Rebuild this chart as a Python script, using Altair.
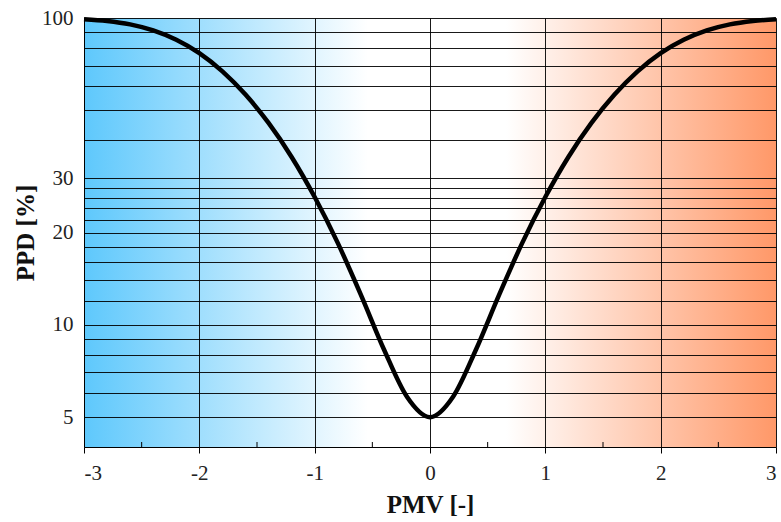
import altair as alt
import pandas as pd

# PMV (predicted mean vote) and PPD (predicted percentage dissatisfied) curve
pmv = [-3.0, -2.8, -2.6, -2.4, -2.2, -2.0, -1.8, -1.6, -1.4, -1.2, -1.0,
       -0.8, -0.6, -0.4, -0.2, 0.0, 0.2, 0.4, 0.6, 0.8, 1.0,
       1.2, 1.4, 1.6, 1.8, 2.0, 2.2, 2.4, 2.6, 2.8, 3.0]
ppd = [99.1, 97.8, 95.3, 91.1, 84.9, 76.8, 67.0, 56.3, 45.5, 35.25, 26.1,
       18.5, 12.55, 8.33, 5.83, 5.0, 5.83, 8.33, 12.55, 18.5, 26.1,
       35.25, 45.5, 56.3, 67.0, 76.8, 84.9, 91.1, 95.3, 97.8, 99.1]

# axis ticks, grid and labels
x_ticks = [-3, -2, -1, 0, 1, 2, 3]
x_minor = [-2.5, -1.5, -0.5, 0.5, 1.5, 2.5]
y_grid = [5, 6, 7, 8, 9, 10, 12, 14, 16, 18, 20, 22, 24, 26, 28,
          30, 40, 50, 60, 70, 80, 90, 100]
y_labels = [5, 10, 20, 30, 100]

FONT = "Liberation Serif"
W, H = 692, 429

curve_df = pd.DataFrame({"PMV": pmv, "PPD": ppd})
band_df = pd.DataFrame({"x": [-3], "x2": [3], "y": [4], "y2": [100]})
minor_df = pd.DataFrame({"x": x_minor})

x_scale = alt.Scale(domain=[-3, 3], nice=False, zero=False)
y_scale = alt.Scale(type="log", domain=[4, 100], nice=False)

x_axis = alt.Axis(
    values=x_ticks, labelExpr="'' + datum.value",
    labelFont=FONT, labelFontSize=21, labelColor="#222222",
    labelPadding=9, tickSize=6, tickColor="#000000", domainColor="#000000",
    grid=True, gridColor="#000000", gridOpacity=0.9, gridWidth=1,
    title="PMV [-]", titleFont=FONT, titleFontSize=25, titleFontWeight="bold",
    titleColor="#111111", titlePadding=9, zindex=1,
)
y_axis = alt.Axis(
    values=y_grid,
    labelExpr="indexof([" + ",".join(str(v) for v in y_labels) + "], datum.value) >= 0 ? '' + datum.value : ''",
    labelFont=FONT, labelFontSize=21, labelColor="#222222", labelOverlap=False,
    labelPadding=11, ticks=False, domainColor="#000000",
    grid=True, gridColor="#000000", gridOpacity=0.9, gridWidth=1,
    title="PPD [%]", titleFont=FONT, titleFontSize=25, titleFontWeight="bold",
    titleColor="#111111", titlePadding=3, zindex=1,
)

# cold-to-warm background band
band = alt.Chart(band_df).mark_rect(
    fill=alt.LinearGradient(
        gradient="linear", x1=0, x2=1, y1=0, y2=0,
        stops=[
            alt.GradientStop(offset=0.0, color="#5ec8fc"),
            alt.GradientStop(offset=0.41, color="#ffffff"),
            alt.GradientStop(offset=0.61, color="#ffffff"),
            alt.GradientStop(offset=1.0, color="#ff9868"),
        ],
    )
).encode(
    x=alt.X("x:Q", scale=x_scale, axis=x_axis),
    x2="x2:Q",
    y=alt.Y("y:Q", scale=y_scale, axis=y_axis),
    y2="y2:Q",
)

minor = alt.Chart(minor_df).mark_rule(color="#000000", strokeWidth=1).encode(
    x=alt.X("x:Q", scale=x_scale),
    y=alt.value(H),
    y2=alt.value(H - 5),
)

line = alt.Chart(curve_df).mark_line(
    color="#000000", strokeWidth=4.5, interpolate="monotone"
).encode(
    x=alt.X("PMV:Q", scale=x_scale),
    y=alt.Y("PPD:Q", scale=y_scale),
)

chart = alt.layer(band, minor, line).properties(
    width=W, height=H,
    autosize=alt.AutoSizeParams(type="none"),
    padding={"left": 84, "top": 18, "right": 5, "bottom": 75},
).configure_view(
    stroke="#000000", strokeWidth=1.2
).configure(background="#ffffff")

chart.save("out.html", embed_options={"renderer": "svg", "actions": False})
